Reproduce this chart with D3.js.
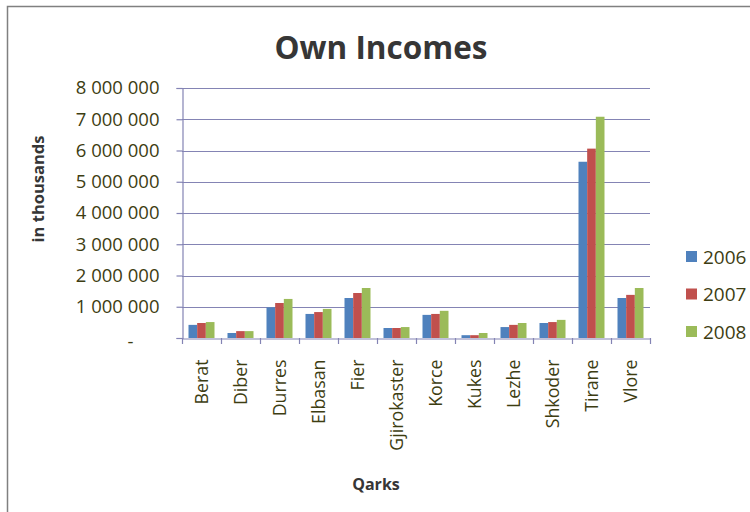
<!DOCTYPE html>
<html>
<head>
<meta charset="utf-8">
<script src="https://cdn.jsdelivr.net/npm/d3@7"></script>
<style>
  html, body { margin: 0; padding: 0; background: #fff; }
  svg { display: block; }
</style>
</head>
<body>
<svg id="chart" width="750" height="512"></svg>
<script>
// Own incomes by qark, in thousands
const qarks = ["Berat", "Diber", "Durres", "Elbasan", "Fier", "Gjirokaster",
  "Korce", "Kukes", "Lezhe", "Shkoder", "Tirane", "Vlore"];
const years = ["2006", "2007", "2008"];
const values2006 = [420000, 160000, 980000, 770000, 1280000, 320000, 740000, 90000, 350000, 480000, 5640000, 1280000];
const values2007 = [480000, 220000, 1120000, 830000, 1440000, 320000, 770000, 90000, 420000, 510000, 6060000, 1380000];
const values2008 = [510000, 220000, 1250000, 930000, 1600000, 350000, 870000, 160000, 480000, 580000, 7080000, 1600000];
const yTicks = [0, 1000000, 2000000, 3000000, 4000000, 5000000, 6000000, 7000000, 8000000];
const seriesColors = ["#4F81BD", "#C0504D", "#9BBB59"];

const series = [values2006, values2007, values2008];
const textColor = "#3d3d12";
const axisColor = "#8484b4";
const font = "'Open Sans', 'Noto Sans', sans-serif";

const svg = d3.select("#chart");

// chart frame
svg.append("rect")
  .attr("x", 7.5).attr("y", 6.5)
  .attr("width", 760).attr("height", 520)
  .attr("fill", "#fff")
  .attr("stroke", "#808080").attr("stroke-width", 1.5);

const plot = { left: 182, right: 650, top: 88, bottom: 338 };

const x = d3.scaleBand().domain(qarks).range([plot.left, plot.right]).paddingInner(0).paddingOuter(0);
const inner = d3.scaleBand().domain(years).range([0, x.bandwidth()]).paddingInner(0).paddingOuter(0.75);
const y = d3.scaleLinear().domain([0, 8000000]).range([plot.bottom, plot.top]);

const fmt = v => v === 0 ? "-" : d3.format(",")(v).replace(/,/g, " ");

// gridlines
svg.append("g")
  .selectAll("line")
  .data(yTicks.filter(t => t > 0))
  .join("line")
  .attr("x1", plot.left).attr("x2", plot.right)
  .attr("y1", d => Math.round(y(d)) + 0.5).attr("y2", d => Math.round(y(d)) + 0.5)
  .attr("stroke", axisColor).attr("stroke-width", 1.2);

// y axis
const yAxis = svg.append("g")
  .attr("transform", `translate(${plot.left + 0.5},0)`)
  .call(d3.axisLeft(y).tickValues(yTicks).tickFormat(fmt).tickSize(6).tickPadding(17));
yAxis.select(".domain").attr("stroke", axisColor).attr("stroke-width", 1.2);
yAxis.selectAll(".tick line").attr("stroke", axisColor).attr("stroke-width", 1.2);
yAxis.selectAll(".tick text")
  .attr("fill", textColor)
  .style("font-family", font).style("font-size", "18.5px");
yAxis.selectAll(".tick").filter(d => d === 0).select("text").attr("dx", -26).attr("dy", "0.5em");

// bars
svg.append("g")
  .selectAll("g")
  .data(series)
  .join("g")
  .attr("fill", (d, i) => seriesColors[i])
  .each(function (vals, si) {
    d3.select(this).selectAll("rect")
      .data(vals)
      .join("rect")
      .attr("x", (v, i) => x(qarks[i]) + inner(years[si]))
      .attr("width", inner.bandwidth())
      .attr("y", v => y(v))
      .attr("height", v => y(0) - y(v));
  });

// x axis
const xAxis = svg.append("g")
  .attr("transform", `translate(0,${plot.bottom + 0.5})`)
  .call(d3.axisBottom(x).tickSize(0).tickPadding(0));
xAxis.select(".domain").attr("stroke", axisColor).attr("stroke-width", 1.2);
xAxis.selectAll(".tick text")
  .attr("transform", "rotate(-90)")
  .attr("text-anchor", "end")
  .attr("x", -21).attr("y", 0).attr("dy", "0.35em")
  .attr("fill", textColor)
  .style("font-family", font).style("font-size", "17.8px");

// category boundary ticks
svg.append("g")
  .selectAll("line")
  .data(qarks.concat(["end"]))
  .join("line")
  .attr("x1", (d, i) => Math.round(plot.left + i * x.bandwidth()) + 0.5)
  .attr("x2", (d, i) => Math.round(plot.left + i * x.bandwidth()) + 0.5)
  .attr("y1", plot.bottom).attr("y2", plot.bottom + 6)
  .attr("stroke", axisColor).attr("stroke-width", 1.2);

// title
svg.append("text")
  .attr("x", 381).attr("y", 59)
  .attr("text-anchor", "middle")
  .attr("fill", "#363636")
  .style("font-family", font).style("font-weight", "bold").style("font-size", "31.5px")
  .text("Own Incomes");

// y axis title
svg.append("text")
  .attr("transform", "translate(44,189) rotate(-90)")
  .attr("text-anchor", "middle")
  .attr("fill", "#363636")
  .style("font-family", font).style("font-weight", "bold").style("font-size", "16.5px")
  .text("in thousands");

// x axis title
svg.append("text")
  .attr("x", 376).attr("y", 490)
  .attr("text-anchor", "middle")
  .attr("fill", "#363636")
  .style("font-family", font).style("font-weight", "bold").style("font-size", "16px")
  .text("Qarks");

// legend
const legend = svg.append("g")
  .selectAll("g")
  .data(years)
  .join("g")
  .attr("transform", (d, i) => `translate(686,${257 + i * 37.5})`);
legend.append("rect")
  .attr("x", 0).attr("y", -6).attr("width", 11).attr("height", 11)
  .attr("fill", (d, i) => seriesColors[i]);
legend.append("text")
  .attr("x", 17).attr("y", 0).attr("dy", "0.36em")
  .attr("fill", textColor)
  .style("font-family", font).style("font-size", "19px")
  .text(d => d);
</script>
</body>
</html>
